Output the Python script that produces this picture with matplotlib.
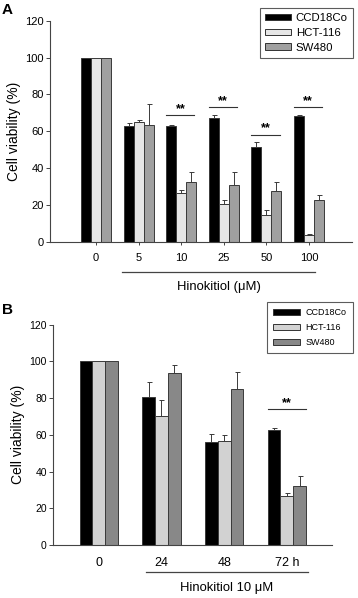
import matplotlib
matplotlib.use("Agg")
import matplotlib.pyplot as plt
import numpy as np
from matplotlib.patches import Patch
import matplotlib.transforms as mtransforms

plt.rcParams['font.family'] = ['Liberation Sans', 'DejaVu Sans']

series = ["CCD18Co", "HCT-116", "SW480"]

# Panel A
a_labels = ["0", "5", "10", "25", "50", "100"]
a_ccd = [100, 62.7, 62.7, 67.4, 51.5, 68.0]
a_ccd_err = [0, 1.7, 0.9, 1.3, 2.5, 0.9]
a_hct = [100, 65.1, 26.6, 20.4, 14.3, 3.8]
a_hct_err = [0, 0.9, 1.4, 2.4, 2.7, 0.3]
a_sw = [100, 63.3, 32.2, 30.9, 27.7, 22.4]
a_sw_err = [0, 11.4, 5.4, 6.7, 4.5, 3.1]
a_sig_idx = [2, 3, 4, 5]
a_sig_y = [68.7, 73.0, 58.0, 73.0]

# Panel B
b_labels = ["0", "24", "48", "72 h"]
b_ccd = [100, 80.4, 56.3, 62.8]
b_ccd_err = [0, 8.6, 4.0, 0.7]
b_hct = [100, 70.4, 56.8, 26.9]
b_hct_err = [0, 8.6, 3.1, 1.2]
b_sw = [100, 93.5, 85.0, 32.3]
b_sw_err = [0, 4.5, 9.0, 5.5]
b_sig_idx = [3]
b_sig_y = [73.9]

W, H = 358, 598
fig = plt.figure(figsize=(W / 100, H / 100), dpi=100)


def px_axes(l, r, t, b):
    return fig.add_axes([l / W, 1 - b / H, (r - l) / W, (b - t) / H])


def draw_panel(ax, labels, vals, errs, colors, gw, xlim, sig_idx, sig_y, sig_span,
               xtick_len, xpad, xfs, yfs, line_span, line_y, xlabel, xlabel_y):
    n = len(labels)
    x = np.arange(n)
    bw = gw / 3
    for k in range(3):
        pos = x + (k - 1) * bw
        ax.bar(pos, vals[k], width=bw, color=colors[k], edgecolor='#3a3a3a',
               linewidth=0.7, zorder=2)
        e = np.array(errs[k])
        m = e > 0
        ax.errorbar(pos[m], np.array(vals[k])[m], yerr=[np.zeros(m.sum()), e[m]],
                    fmt='none', ecolor='#3a3a3a', elinewidth=0.7, capsize=1.8,
                    capthick=0.7, zorder=3)
    ax.set_xlim(*xlim)
    ax.set_ylim(0, 120)
    ax.set_yticks(np.arange(0, 121, 20))
    ax.set_xticks(x)
    ax.set_xticklabels(labels)
    for s in ['top', 'right']:
        ax.spines[s].set_visible(False)
    for s in ['left', 'bottom']:
        ax.spines[s].set_linewidth(0.8)
        ax.spines[s].set_color('#444444')
    ax.tick_params(axis='y', length=3, width=0.7, pad=1.5, labelsize=yfs, color='#444444')
    ax.tick_params(axis='x', length=xtick_len, width=0.7, pad=xpad, labelsize=xfs, color='#444444')
    ax.set_ylabel("Cell viability (%)", fontsize=10, labelpad=3)
    for i, yv in zip(sig_idx, sig_y):
        ax.plot([i + sig_span[0], i + sig_span[1]], [yv, yv], color='#333333', lw=0.8)
        ax.text(i + (sig_span[0] + sig_span[1]) / 2, yv + 1.8, "**", ha='center',
                va='baseline', fontsize=9, fontweight='bold')
    trans = mtransforms.blended_transform_factory(ax.transData, ax.transAxes)
    ax.plot(line_span, [line_y, line_y], color='#444444', lw=0.9, transform=trans,
            clip_on=False)
    ax.text((line_span[0] + line_span[1]) / 2, xlabel_y, xlabel, transform=trans,
            ha='center', va='center', fontsize=9.4)
    h = [Patch(facecolor=c, edgecolor='#333333', linewidth=0.7) for c in colors]
    return h


# Panel A axes: x 50..352 px, y 120 at 20.7 px, 0 at 241.7 px
axA = px_axes(50, 352, 20.7, 241.7)
hA = draw_panel(axA, a_labels, [a_ccd, a_hct, a_sw], [a_ccd_err, a_hct_err, a_sw_err],
                ['#000000', '#e6e6e6', '#a0a0a0'], 0.70, (-1.08, 6.01),
                a_sig_idx, a_sig_y, (-0.35, 0.31), 2, 6.0, 8.0, 8.0,
                (0.61, 5.15), -0.136, "Hinokitiol (μM)", -0.204)
legA = fig.legend(hA, series, loc='upper right', bbox_to_anchor=(353 / W, 1 - 8 / H),
                  borderaxespad=0, fontsize=8.2, frameon=True, fancybox=False,
                  edgecolor='#333333', handlelength=2.3, handleheight=0.5,
                  labelspacing=0.42, handletextpad=0.4, borderpad=0.45)
legA.get_frame().set_linewidth(0.8)

# Panel B axes: x 53..332 px, y 120 at 324.7 px, 0 at 545 px
axB = px_axes(53, 332, 324.7, 545)
hB = draw_panel(axB, b_labels, [b_ccd, b_hct, b_sw], [b_ccd_err, b_hct_err, b_sw_err],
                ['#000000', '#d2d2d2', '#888888'], 0.61, (-0.73, 3.72),
                b_sig_idx, b_sig_y, (-0.30, 0.30), 0, 8.3, 9.0, 7.5,
                (0.75, 3.33), -0.121, "Hinokitiol 10 μM", -0.197)
legB = fig.legend(hB, series, loc='upper right', bbox_to_anchor=(353 / W, 1 - 302 / H),
                  borderaxespad=0, fontsize=6.5, frameon=True, fancybox=False,
                  edgecolor='#333333', handlelength=3.0, handleheight=0.6,
                  labelspacing=0.65, handletextpad=0.6, borderpad=0.7)
legB.get_frame().set_linewidth(0.8)

fig.text(2 / W, 1 - 10 / H, "A", fontsize=11, fontweight='bold', va='center', ha='left')
fig.text(2 / W, 1 - 310 / H, "B", fontsize=11, fontweight='bold', va='center', ha='left')

fig.savefig("out.png", dpi=100)
